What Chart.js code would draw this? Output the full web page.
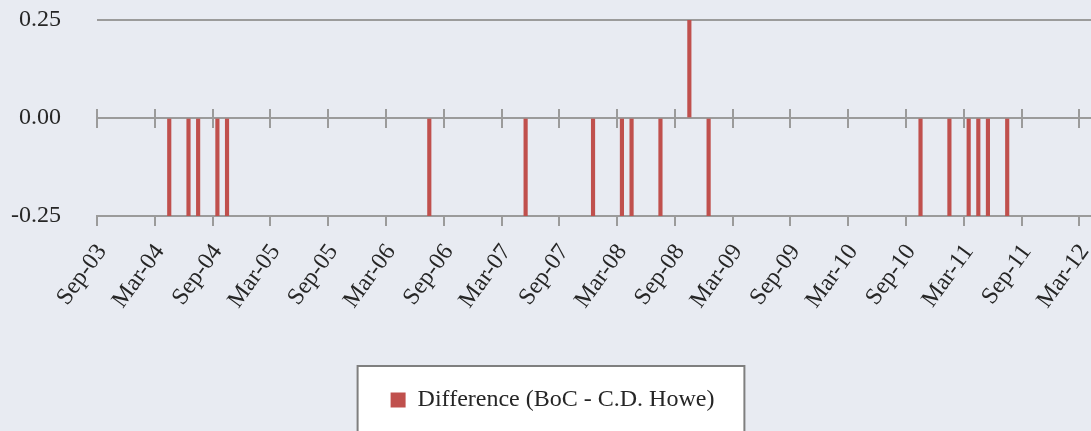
<!DOCTYPE html>
<html>
<head>
<meta charset="utf-8">
<script src="https://cdn.jsdelivr.net/npm/chart.js@4/dist/chart.umd.min.js"></script>
<style>
  html, body { margin: 0; padding: 0; background: #e8ebf2; overflow: hidden; }
  canvas { display: block; }
</style>
</head>
<body>
<canvas id="diffChart" width="1091" height="431"></canvas>
<script>
// month axis runs monthly from Sep-03; ticks every six months
const tickLabels = ['Sep-03', 'Mar-04', 'Sep-04', 'Mar-05', 'Sep-05', 'Mar-06', 'Sep-06', 'Mar-07', 'Sep-07',
    'Mar-08', 'Sep-08', 'Mar-09', 'Sep-09', 'Mar-10', 'Sep-10', 'Mar-11', 'Sep-11', 'Mar-12'];

// months where the two rates differed
const barMonths = ['Apr-04', 'Jun-04', 'Jul-04', 'Sep-04', 'Oct-04', 'Jul-06', 'May-07', 'Dec-07', 'Mar-08',
    'Apr-08', 'Jul-08', 'Oct-08', 'Dec-08', 'Oct-10', 'Jan-11', 'Mar-11', 'Apr-11', 'May-11', 'Jul-11'];
const differences = [-0.25, -0.25, -0.25, -0.25, -0.25, -0.25, -0.25, -0.25, -0.25,
    -0.25, -0.25, 0.25, -0.25, -0.25, -0.25, -0.25, -0.25, -0.25, -0.25];

const yTicks = [-0.25, 0, 0.25];

const monthNames = ['Jan', 'Feb', 'Mar', 'Apr', 'May', 'Jun', 'Jul', 'Aug', 'Sep', 'Oct', 'Nov', 'Dec'];
function monthIndex(label) {
    const parts = label.split('-');
    return (Number(parts[1]) - 3) * 12 + monthNames.indexOf(parts[0]) - 8;
}

const gridGray = '#9b9b9b';
const textColor = '#262626';

Chart.defaults.font.family = "'Liberation Serif', 'DejaVu Serif', serif";
Chart.defaults.font.size = 24;
Chart.defaults.color = textColor;

// background + white legend frame
const framePlugin = {
    id: 'frame',
    beforeDraw(chart) {
        const c = chart.ctx;
        c.save();
        c.fillStyle = '#e8ebf2';
        c.fillRect(0, 0, chart.width, chart.height);
        const lg = chart.legend;
        if (lg && lg.legendHitBoxes.length) {
            const w = lg.legendHitBoxes[0].width;
            const mid = (lg.left + lg.right) / 2;
            const x0 = mid - w / 2 - 33;
            const x1 = mid + w / 2 + 30;
            const y0 = lg.top - 12;
            c.fillStyle = '#ffffff';
            c.fillRect(x0, y0, x1 - x0, chart.height - y0 + 10);
            c.strokeStyle = '#7f7f7f';
            c.lineWidth = 2;
            c.strokeRect(x0, y0, x1 - x0, chart.height - y0 + 10);
        }
        c.restore();
    },
    afterLayout(chart) {
        // legend sits a little right of centre in the original
        chart.legend.left += 7;
        chart.legend.right += 7;
    },
    beforeDatasetsDraw(chart) {
        // cross ticks on the zero line
        const x = chart.scales.x, y = chart.scales.y;
        const y0 = y.getPixelForValue(0);
        const c = chart.ctx;
        c.save();
        c.strokeStyle = gridGray;
        c.lineWidth = 2;
        c.beginPath();
        tickLabels.forEach(function (lab) {
            const px = Math.round(x.getPixelForValue(monthIndex(lab)));
            c.moveTo(px, y0 - 9);
            c.lineTo(px, y0 + 10);
        });
        c.stroke();
        c.restore();
    }
};

const ctx = document.getElementById('diffChart').getContext('2d');

new Chart(ctx, {
    type: 'bar',
    data: {
        datasets: [{
            label: 'Difference (BoC - C.D. Howe)',
            data: barMonths.map(function (m, i) { return { x: monthIndex(m) + 0.5, y: differences[i] }; }),
            backgroundColor: '#c0504d',
            borderWidth: 0,
            barThickness: 3.5
        }]
    },
    options: {
        responsive: false,
        animation: false,
        devicePixelRatio: 1,
        layout: { padding: { top: 20, bottom: 9, left: 0, right: 0 } },
        plugins: {
            title: { display: false },
            tooltip: { enabled: false },
            legend: {
                display: true,
                position: 'bottom',
                labels: {
                    boxWidth: 15,
                    boxHeight: 15,
                    padding: 10,
                    color: textColor,
                    font: { size: 24 }
                }
            }
        },
        scales: {
            x: {
                type: 'linear',
                offset: false,
                min: 0,
                max: 103.2,
                afterBuildTicks: function (scale) {
                    scale.ticks = tickLabels.map(function (l) { return { value: monthIndex(l) }; });
                },
                afterFit: function (scale) {
                    scale.height = 162;
                    scale.paddingLeft = 0;
                    scale.paddingRight = 0;
                },
                ticks: {
                    autoSkip: false,
                    minRotation: 54,
                    maxRotation: 54,
                    padding: 13,
                    labelOffset: 5,
                    color: textColor,
                    callback: function (value) {
                        const i = tickLabels.findIndex(function (l) { return monthIndex(l) === value; });
                        return i >= 0 ? tickLabels[i] : '';
                    }
                },
                grid: {
                    offset: false,
                    drawOnChartArea: false,
                    drawTicks: true,
                    tickLength: 10,
                    color: gridGray,
                    lineWidth: 2
                },
                border: { display: true, color: gridGray, width: 2 }
            },
            y: {
                min: -0.25,
                max: 0.25,
                afterBuildTicks: function (scale) {
                    scale.ticks = yTicks.map(function (v) { return { value: v }; });
                },
                afterFit: function (scale) {
                    scale.width = 97;
                    scale.paddingTop = 0;
                    scale.paddingBottom = 0;
                },
                ticks: {
                    padding: 36,
                    color: textColor,
                    callback: function (value) { return value.toFixed(2); }
                },
                grid: {
                    drawTicks: false,
                    tickLength: 0,
                    color: gridGray,
                    lineWidth: 2
                },
                border: { display: false }
            }
        }
    },
    plugins: [framePlugin]
});
</script>
</body>
</html>
